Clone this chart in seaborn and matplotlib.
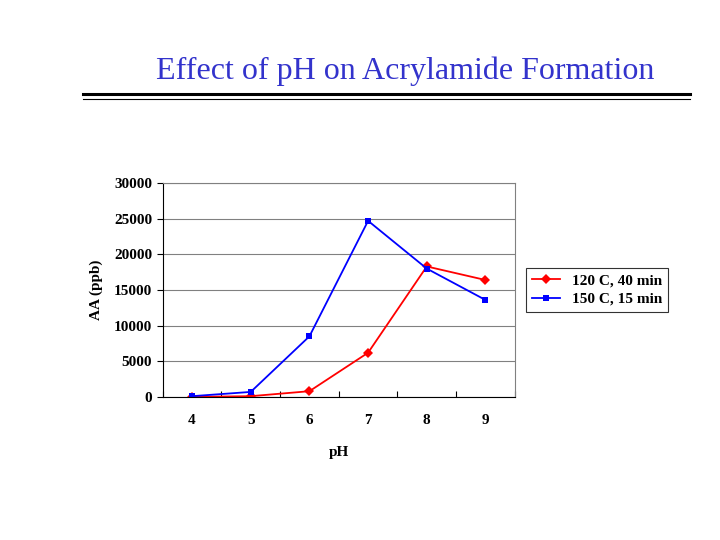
import matplotlib
matplotlib.use("Agg")
import matplotlib.pyplot as plt
import seaborn as sns
import pandas as pd
import numpy as np

ph = [4, 5, 6, 7, 8, 9]
aa_120 = [0, 100, 800, 6200, 18300, 16400]
aa_150 = [100, 700, 8500, 24700, 18000, 13600]
y_ticks = [0, 5000, 10000, 15000, 20000, 25000, 30000]

df = pd.concat([
    pd.DataFrame({"pH": ph, "AA": aa_120, "series": "120 C, 40 min"}),
    pd.DataFrame({"pH": ph, "AA": aa_150, "series": "150 C, 15 min"}),
])

plt.rcParams["font.family"] = "Liberation Serif"
fig = plt.figure(figsize=(7.2, 5.4), dpi=100)

fig.text(0.563, 0.868, "Effect of pH on Acrylamide Formation", ha="center",
         va="center", fontsize=23, color="#3333cc")
fig.add_artist(plt.Line2D([0.115, 0.958], [0.826, 0.826], color="black", lw=2.2))
fig.add_artist(plt.Line2D([0.115, 0.958], [0.817, 0.817], color="black", lw=0.8))

ax = fig.add_axes([0.226, 0.265, 0.489, 0.396])
sns.lineplot(data=df, x="pH", y="AA", hue="series", style="series",
             palette=["#ff0000", "#0000ff"], markers=["D", "s"], dashes=False,
             markersize=5, markeredgewidth=0, lw=1.3, ax=ax)

ax.set_xlim(3.5, 9.5)
ax.set_ylim(0, 30000)
ax.set_yticks(y_ticks)
ax.set_yticklabels([str(v) for v in y_ticks], fontsize=11, fontweight="bold")
ax.set_xticks(np.arange(3.5, 10, 1), minor=False)
ax.set_xticklabels([])
ax.set_xticks(ph, minor=True)
ax.set_xticklabels([str(p) for p in ph], minor=True, fontsize=11, fontweight="bold")
ax.tick_params(axis="x", which="minor", length=0, pad=12)
ax.tick_params(axis="x", which="major", length=4, direction="in")
ax.tick_params(axis="y", length=4, direction="out")
ax.yaxis.grid(True, color="#808080", lw=0.8)
ax.set_axisbelow(True)
for s in ax.spines.values():
    s.set_color("#808080")
ax.spines["left"].set_color("black")
ax.spines["bottom"].set_color("black")
ax.set_xlabel("pH", fontsize=11, fontweight="bold", labelpad=14)
ax.set_ylabel("AA (ppb)", fontsize=11, fontweight="bold", labelpad=8)

leg = ax.legend(loc="center left", bbox_to_anchor=(1.01, 0.5), frameon=True,
                fancybox=False, edgecolor="black", fontsize=11,
                prop={"weight": "bold", "size": 11}, handlelength=1.8,
                borderpad=0.4, labelspacing=0.3)
leg.get_frame().set_linewidth(0.8)

fig.savefig("out.png", dpi=100)
